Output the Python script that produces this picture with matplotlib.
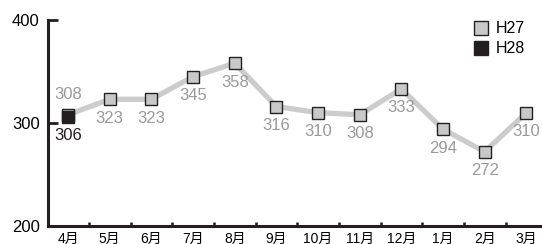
import matplotlib
matplotlib.use("Agg")
import matplotlib.pyplot as plt
import numpy as np

plt.rcParams['font.family'] = ['Liberation Sans', 'Noto Sans CJK JP', 'DejaVu Sans']

# Data
months = ['4月', '5月', '6月', '7月', '8月', '9月', '10月', '11月', '12月', '1月', '2月', '3月']
h27 = [308, 323, 323, 345, 358, 316, 310, 308, 333, 294, 272, 310]
h28 = [306]
yticks = [200, 300, 400]

fig = plt.figure(figsize=(5.42, 2.44), dpi=100)
ax = fig.add_axes([0.0886, 0.074, 0.911, 0.844])

x = np.arange(len(months))
ax.plot(x, h27, color='#cccccc', lw=3.8, zorder=1)
ax.plot(x, h27, ls='none', marker='s', ms=9, mfc='#c8c8c8', mec='#222222',
        mew=1.0, label='H27', zorder=2)
ax.plot(x[:len(h28)], h28, ls='none', marker='s', ms=9, mfc='#231f20',
        mec='#231f20', mew=1.0, label='H28', zorder=3)

gray = '#9a9a9a'
for i, v in enumerate(h27):
    if i == 0:
        ax.annotate(str(v), (i, v), xytext=(0, 20), textcoords='offset pixels',
                    ha='center', va='center', fontsize=12, color=gray)
    else:
        ax.annotate(str(v), (i, v), xytext=(0, -19), textcoords='offset pixels',
                    ha='center', va='center', fontsize=12, color=gray)
for i, v in enumerate(h28):
    ax.annotate(str(v), (i, v), xytext=(0, -19), textcoords='offset pixels',
                ha='center', va='center', fontsize=12, color='#231f20')

ax.set_xlim(-0.48, 11.37)
ax.set_ylim(200, 400)
ax.set_yticks(yticks)
ax.set_yticklabels([str(t) for t in yticks], fontsize=12)
ax.set_xticks(x)
ax.set_xticklabels(months, fontsize=10)
ax.set_xticks(np.arange(0.5, len(months) - 1), minor=True)

ax.tick_params(axis='y', direction='in', length=7, width=2, pad=6, color='#231f20')
ax.tick_params(axis='x', which='major', length=0, pad=4)
ax.tick_params(axis='x', which='minor', direction='in', length=3, width=1.8, color='#231f20')

for s in ['top', 'right']:
    ax.spines[s].set_visible(False)
for s in ['left', 'bottom']:
    ax.spines[s].set_linewidth(2.2)
    ax.spines[s].set_color('#231f20')

leg = ax.legend(loc='upper right', frameon=False, fontsize=11.5, handlelength=1,
                handletextpad=0.4, borderaxespad=0.2, labelspacing=0.3,
                markerscale=1.15, bbox_to_anchor=(0.985, 1.04))

fig.savefig('out.png', dpi=100)
